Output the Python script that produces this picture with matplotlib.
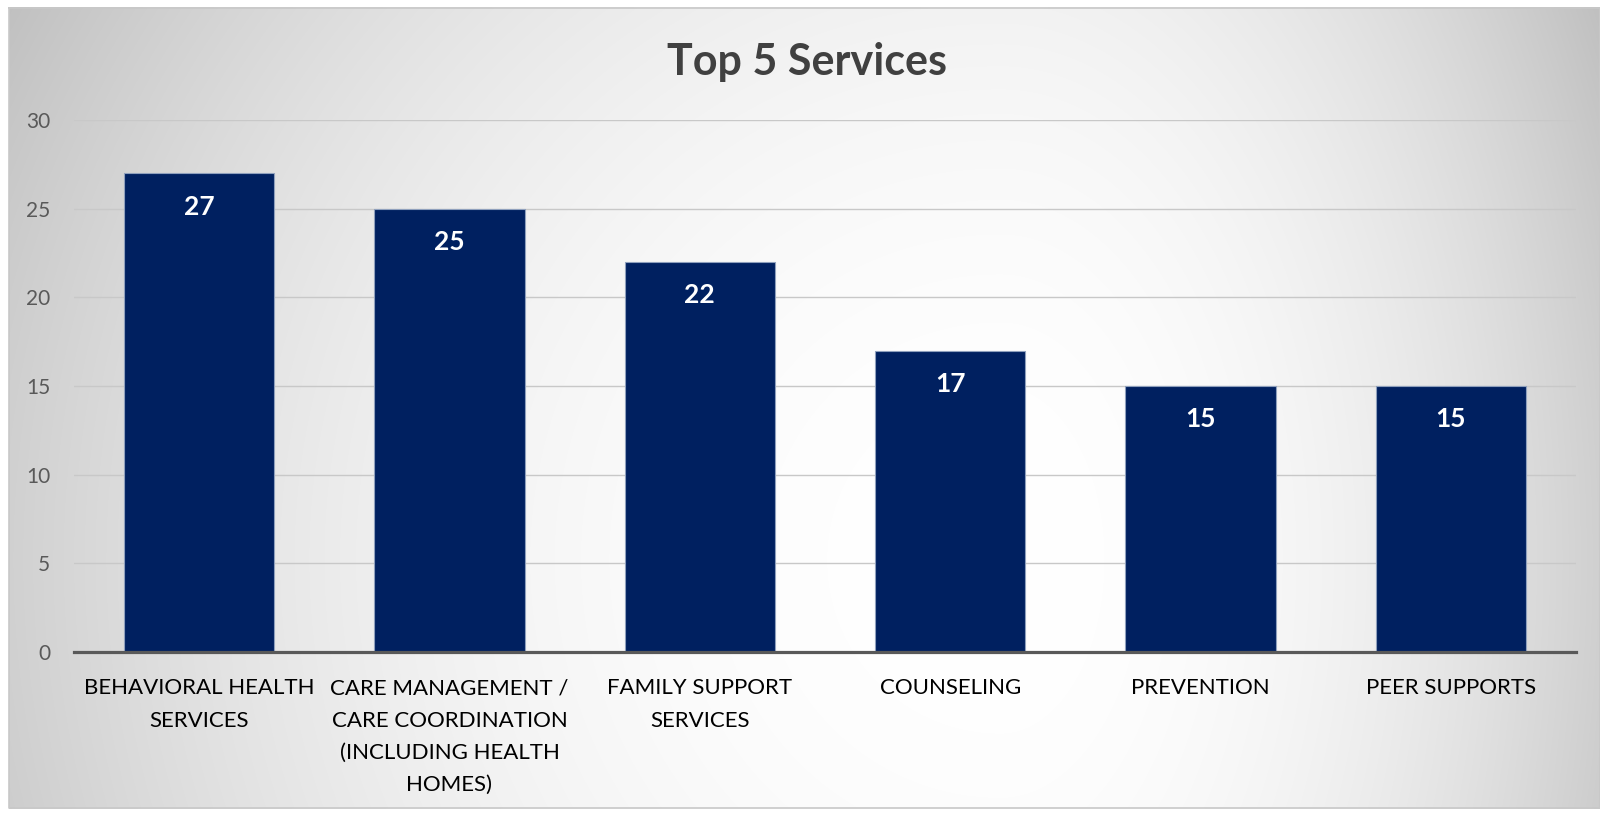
import numpy as np
import matplotlib.pyplot as plt

services = ["BEHAVIORAL HEALTH\nSERVICES",
            "CARE MANAGEMENT /\nCARE COORDINATION\n(INCLUDING HEALTH\nHOMES)",
            "FAMILY SUPPORT\nSERVICES",
            "COUNSELING",
            "PREVENTION",
            "PEER SUPPORTS"]
counts = [27, 25, 22, 17, 15, 15]
yticks = [0, 5, 10, 15, 20, 25, 30]

plt.rcParams['font.family'] = ['Lato', 'DejaVu Sans']

W, H = 1600, 813
fig = plt.figure(figsize=(W / 100, H / 100), dpi=100)

# radial grey-to-white backdrop of the chart area
bg = fig.add_axes([0, 0, 1, 1])
bg.set_xlim(0, W)
bg.set_ylim(H, 0)
bg.axis('off')
xx, yy = np.meshgrid(np.arange(W), np.arange(H))
cx, cy = 1000, 560
ax_x = np.where(xx < cx, 1100.0, 660.0)
d = np.sqrt(((xx - cx) / ax_x) ** 2 + ((yy - cy) / 1100.0) ** 2)
t = np.clip(d / 1.05, 0, 1) ** 2.2
g = 255 - (255 - 190) * t
inside = (xx >= 9) & (yy >= 8) & (yy <= 808)
g = np.where(inside, g, 255) / 255.0
bg.imshow(np.dstack([g, g, g]), extent=(0, W, H, 0), interpolation='bilinear')
bg.plot([9, W, W, 9, 9], [8, 8, 808, 808, 8], color='#c8c8c8', lw=1.2)

ax = fig.add_axes([74 / W, 1 - 652 / H, 1502 / W, 532 / H])
ax.set_facecolor('none')
x = np.arange(len(services))
bars = ax.bar(x, counts, width=0.6, color='#002060', edgecolor='#8fa0bd',
              linewidth=0.8, zorder=3)
for xi, v in zip(x, counts):
    ax.annotate(str(v), (xi, v), xytext=(0, -24), textcoords='offset points',
                ha='center', va='center', color='white', fontsize=19,
                fontweight='bold', zorder=4)

ax.set_xlim(-0.5, len(services) - 0.5)
ax.set_ylim(0, 30)
ax.set_yticks(yticks)
ax.yaxis.grid(True, color='#c8c8c8', lw=1, zorder=0)
ax.set_xticks(x)
ax.set_xticklabels(services, fontsize=16, color='black', linespacing=1.77)
ax.tick_params(axis='x', length=0, pad=19)
ax.tick_params(axis='y', length=0, pad=17, labelsize=15, labelcolor='#595959')
for s in ['top', 'right', 'left']:
    ax.spines[s].set_visible(False)
ax.spines['bottom'].set_color('#595959')
ax.spines['bottom'].set_linewidth(2.3)
ax.spines['bottom'].set_zorder(5)

fig.text(807 / W, 1 - 62 / H, "Top 5 Services", ha='center', va='center',
         fontsize=31, fontweight='bold', color='#404040')

fig.savefig('out.png', dpi=100)
